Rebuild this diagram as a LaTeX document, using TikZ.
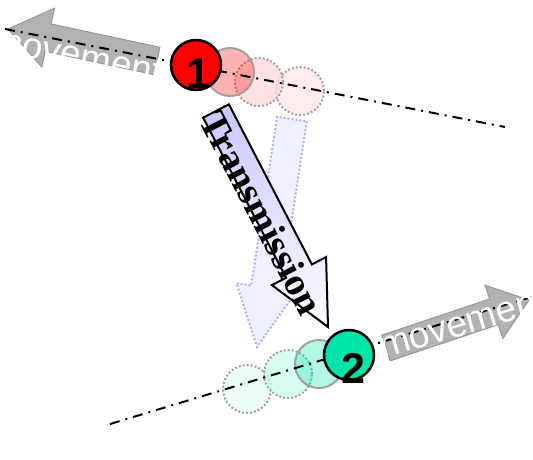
\documentclass[tikz,border=0pt]{standalone}
\usepackage{fontspec}
\setmainfont{Liberation Serif}
\newfontfamily\arialfont{Liberation Sans}
\usetikzlibrary{calc}
\definecolor{lav}{RGB}{200,200,255}
\definecolor{ghostfill}{RGB}{240,240,255}
\definecolor{ghostline}{RGB}{176,176,255}
\definecolor{arrgray}{RGB}{178,178,178}
\definecolor{arredge}{RGB}{150,150,150}
\definecolor{ringgray}{RGB}{160,160,160}
\definecolor{mint}{RGB}{0,228,170}
% #1 style, #2 tail, #3 tip, #4 half shaft width, #5 half head width, #6 head length
\newcommand\fatarrow[6]{%
  \coordinate (fab) at ($(#3)!#6!(#2)$);
  \path[#1] ($(#2)!#4!90:(#3)$) -- ($(fab)!#4!90:(#3)$) -- ($(fab)!#5!90:(#3)$) -- (#3)
    -- ($(fab)!#5!-90:(#3)$) -- ($(fab)!#4!-90:(#3)$) -- ($(#2)!#4!-90:(#3)$) -- cycle;
}
\begin{document}
\begin{tikzpicture}[x=1pt,y=-1pt,
  ghostarrow/.style={fill=ghostfill, draw=ghostline, line width=2pt, dash pattern=on 2pt off 2pt},
  trarrow/.style={top color=lav, bottom color=white!95!lav, draw=black, line width=2pt, line join=miter},
  mvarrow/.style={fill=arrgray, draw=arredge, line width=1pt},
  track/.style={line width=2pt, dash pattern=on 10pt off 6pt on 2pt off 6pt},
  mvtext/.style={text=white, font=\arialfont\fontsize{37}{40}\selectfont, inner sep=0pt},
  numtext/.style={font=\arialfont\bfseries\fontsize{43}{43}\selectfont, inner sep=0pt},
  ball/.style={circle, inner sep=0pt, minimum size=48pt},
  soliddtrace/.style={ball, draw=ringgray, line width=2pt, fill=#1, fill opacity=0.3},
  dottrace/.style={ball, draw=ringgray, line width=2pt, dash pattern=on 2pt off 2pt, fill=#1},
  mainball/.style={ball, minimum size=50pt, draw=black, line width=2.5pt, fill=#1}
]
\useasboundingbox (0,0) rectangle (533,459);
\clip (0,0) rectangle (533,459);

% coordinates
\coordinate (gtail) at (292,119);
\coordinate (gtip) at (257,347);
\coordinate (ttail) at (216,111);
\coordinate (ttip) at (328,327);
\coordinate (m1tail) at (157,61);
\coordinate (m1tip) at (8,29);
\coordinate (m2tail) at (386,348);
\coordinate (m2tip) at (529,300);
\coordinate (l1a) at (5,29);
\coordinate (l1b) at (505,127);
\coordinate (l2a) at (110,424);
\coordinate (l2b) at (531,297);

% ghost transmission arrow
\fatarrow{ghostarrow}{gtail}{gtip}{15pt}{30pt}{60pt}

% transmission arrow
\fatarrow{trarrow}{ttail}{ttip}{14.5pt}{30.5pt}{63pt}
\node[rotate=-62.6, font=\bfseries\fontsize{39}{40}\selectfont, inner sep=0pt] (tt) at (262,213) {Transmission};

% movement arrows
\fatarrow{mvarrow}{m1tail}{m1tip}{14pt}{30pt}{41pt}
\fatarrow{mvarrow}{m2tail}{m2tip}{13.5pt}{28pt}{37pt}

% ghost circles
\node[dottrace={red!7}] (a4) at (300,91) {};
\node[dottrace={red!15}, fill opacity=0.8] (a3) at (259,82) {};
\node[soliddtrace=red] (a2) at (230,72) {};
\node[dottrace={mint!7}] (b4) at (247,389) {};
\node[dottrace={mint!20}, fill opacity=0.8] (b3) at (288,374) {};
\node[soliddtrace=mint] (b2) at (319,364) {};

% tracks
\draw[track] (l1a) -- (l1b);
\draw[track] (l2a) -- (l2b);

% movement labels
\node[mvtext, rotate=-11.5, anchor=base west] (mt1) at (-10,50) {movement};
\node[mvtext, rotate=16.5, anchor=base west] (mt2) at (383,359) {movement};

% main circles
\node[mainball=red] (c1) at (196,65) {};
\node[numtext] (n1) at (198,74) {1};
\node[mainball=mint] (c2) at (349,355) {};
\node[numtext] (n2) at (353,368) {2};
\end{tikzpicture}
\end{document}
